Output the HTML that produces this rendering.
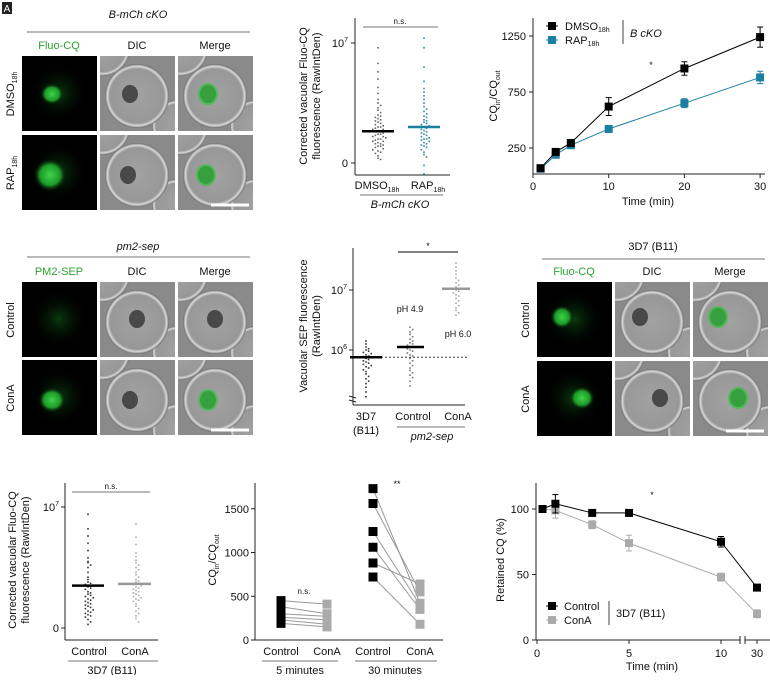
<!DOCTYPE html>
<html><head><meta charset="utf-8"><style>
body{margin:0;background:#fff;font-family:"Liberation Sans",sans-serif}
svg text{font-family:"Liberation Sans",sans-serif}
</style></head><body>
<svg id="fig" width="770" height="675" viewBox="0 0 770 675" xmlns="http://www.w3.org/2000/svg">
<defs id="defs">
<radialGradient id="gg"><stop offset="0" stop-color="#3fd34a"/><stop offset="0.6" stop-color="#1c9a28"/><stop offset="1" stop-color="#000" stop-opacity="0"/></radialGradient>
<radialGradient id="gw"><stop offset="0" stop-color="#0a3a0e"/><stop offset="1" stop-color="#000" stop-opacity="0"/></radialGradient>
<radialGradient id="cell"><stop offset="0" stop-color="#a2a2a2"/><stop offset="0.85" stop-color="#989898"/><stop offset="0.93" stop-color="#d8d8d8"/><stop offset="1" stop-color="#6a6a6a"/></radialGradient>
</defs>
<g id="images"></g>
<g id="charts"></g>
</svg>
<script>
const NS='http://www.w3.org/2000/svg';
const svg=document.getElementById('fig');
const defs=document.getElementById('defs');
function mk(tag,attrs,parent,txt){const e=document.createElementNS(NS,tag);for(const k in attrs)e.setAttribute(k,attrs[k]);if(txt!==undefined)e.textContent=txt;(parent||svg).appendChild(e);return e;}

// ===== DATA =====
// Panel C: uptake time course
const cTimes=[1,3,5,10,20,30];
const cDMSO=[70,215,295,620,960,1240];
const cDMSOerr=[15,20,20,80,60,90];
const cRAP=[65,190,275,420,650,880];
const cRAPerr=[10,15,15,25,40,55];
// Panel B scatter (x1e6)
const bDMSO=[9.6,8.3,7.6,7,6.3,5.8,5.3,5,4.8,4.6,4.4,4.2,4,3.9,3.8,3.7,3.6,3.5,3.4,3.3,3.2,3.1,3,3,2.9,2.8,2.8,2.7,2.6,2.6,2.5,2.4,2.4,2.3,2.2,2.2,2.1,2,2,1.9,1.8,1.8,1.7,1.6,1.6,1.5,1.4,1.4,1.3,1.2,1.1,1,0.9,0.8,0.6,0.4,0.3];
const bDMSOmed=2.65;
const bRAP=[10.4,9.6,8,6.8,6.2,5.9,5.6,5.3,5,4.7,4.5,4.3,4.1,3.9,3.8,3.6,3.5,3.4,3.3,3.2,3.1,3,2.9,2.8,2.7,2.6,2.5,2.4,2.3,2.2,2.1,2,2,1.9,1.8,1.7,1.6,1.5,1.4,1.3,1.1,0.9,0.7,0.5,-0.2,-0.9];
const bRAPmed=3;
// Panel E log scatter (log10 values)
const e3D7=[6.15,6.1,6.05,6.02,6,5.98,5.96,5.94,5.92,5.9,5.89,5.88,5.86,5.84,5.82,5.8,5.78,5.76,5.74,5.72,5.7,5.67,5.64,5.6,5.56,5.52,5.48,5.44,5.38,5.3,5.22];
const e3D7med=5.88;
const eCtrl=[6.38,6.34,6.3,6.26,6.22,6.18,6.15,6.12,6.1,6.08,6.06,6.04,6.02,6,5.98,5.95,5.92,5.9,5.86,5.82,5.78,5.74,5.7,5.66,5.62,5.58,5.54,5.48,5.4];
const eCtrlmed=6.05;
const eConA=[7.45,7.38,7.32,7.26,7.2,7.16,7.12,7.08,7.05,7.02,7,6.98,6.95,6.92,6.9,6.86,6.82,6.78,6.74,6.7,6.66,6.62,6.58];
const eConAmed=7.02;
const eLine=5.88;
// Panel G scatter (x1e6)
const gCtrl=[9.4,8.2,7.6,7,6.4,5.8,5.5,5.4,5.2,5,4.6,4.2,4,3.8,3.7,3.6,3.5,3.4,3.3,3.2,3,2.9,2.8,2.7,2.6,2.5,2.4,2.3,2.2,2.1,2,1.9,1.8,1.7,1.6,1.5,1.4,1.3,1.2,1.1,1,0.9,0.7,0.5,0.3];
const gCtrlmed=3.5;
const gConA=[8.6,7.5,6.9,6.2,5.9,5.6,5.4,5.2,5,4.8,4.6,4.4,4.2,4,3.9,3.8,3.7,3.6,3.5,3.4,3.3,3.2,3.1,3,2.9,2.8,2.7,2.6,2.5,2.4,2.3,2.2,2,1.8,1.6,1.4,1.2,1,0.8,0.5];
const gConAmed=3.65;
// Panel H paired
const h5Ctrl=[450,380,300,260,230,190];
const h5ConA=[410,300,270,230,180,150];
const h30Ctrl=[1730,1560,1240,1060,880,720];
const h30ConA=[420,550,400,350,640,180];
// Panel I retention
const iTimes=[0.3,1,3,5,10,30];
const iCtrl=[100,104,97,97,75,40];
const iCtrlErr=[0,7,2,2,4,2];
const iConA=[100,99,88,74,48,20];
const iConAErr=[0,6,3,6,3,3];

// ===== helpers =====
function txt(x,y,s,o,p){o=o||{};const e=mk('text',Object.assign({x:x,y:y,'font-size':o.fs||10,'text-anchor':o.a||'middle',fill:o.fill||'#111'},o.extra||{}),p,s);if(o.it)e.setAttribute('font-style','italic');return e;}
function line(x1,y1,x2,y2,st,p,name){const e=mk('line',{x1:x1,y1:y1,x2:x2,y2:y2,stroke:st||'#222','stroke-width':1},p);return e;}
function grp(name){const g=mk('g',{});return g;}
function swarm(vals,cx,ys,col,p,name){const bins={};vals.forEach(v=>{const y=ys(v);const k=Math.round(y/4);(bins[k]=bins[k]||[]).push(y);});
 for(const k in bins){const arr=bins[k];arr.forEach((y,i)=>{const off=(i%2?1:-1)*Math.ceil(i/2)*2.6;const r=mk('rect',{x:cx+off-0.8,y:y-0.8,width:1.6,height:1.6,fill:col},p);});}}

// ===== images =====
const im=document.getElementById('images');
let clipN=0;
function clipG(x,y,p,name){const id='c'+(clipN++);const cp=mk('clipPath',{id:id},defs);mk('rect',{x:x,y:y,width:75,height:75},cp);
 const g=mk('g',{'clip-path':'url(#'+id+')'},p);return g;}
function fluor(x,y,cx,cy,rx,ry,dim,p){const g=clipG(x,y,p,'fluorescence-image');
 mk('rect',{x:x,y:y,width:75,height:75,fill:'#000'},g);
 mk('ellipse',{cx:x+37,cy:y+37,rx:30,ry:30,fill:'url(#gw)'},g);
 if(!dim)mk('ellipse',{cx:x+cx,cy:y+cy,rx:rx,ry:ry,fill:'url(#gg)'},g);}
function dic(x,y,cx,cy,green,p){const g=clipG(x,y,p,green?'merge-image':'dic-image');
 mk('rect',{x:x,y:y,width:75,height:75,fill:'#8a8a8a'},g);
 mk('circle',{cx:x+2,cy:y-8,r:28,fill:'url(#cell)'},g);
 mk('circle',{cx:x+78,cy:y+70,r:26,fill:'url(#cell)'},g);
 mk('circle',{cx:x+37,cy:y+40,r:32,fill:'url(#cell)'},g);
 mk('ellipse',{cx:x+cx,cy:y+cy,rx:8,ry:9,fill:'#333',opacity:0.8},g);
 if(green)mk('ellipse',{cx:x+cx,cy:y+cy,rx:10,ry:11,fill:'#2fc43a',opacity:0.7},g);}
function block(x0,y0,title,titleIt,c1,c1col,rows,specs,rowY,lineY,labY){
 txt(x0+116,y0,title,{fs:11,it:titleIt,name:'panel-title'},im);
 line(x0+5,lineY,x0+228,lineY,'#777',im,'title-underline');
 const xs=[x0,x0+78,x0+156];
 txt(xs[0]+37,labY,c1,{fs:11,fill:c1col,name:'column-label'},im);
 txt(xs[1]+37,labY,'DIC',{fs:11,name:'column-label'},im);
 txt(xs[2]+37,labY,'Merge',{fs:11,name:'column-label'},im);
 rows.forEach((r,i)=>{const y=rowY[i];const s=specs[i];
  fluor(xs[0],y,s[0],s[1],s[2],s[3],s[4],im);dic(xs[1],y,s[0],s[1],false,im);dic(xs[2],y,s[0],s[1],!s[4],im);
  const t=txt(xs[0]-8,y+38,'',{fs:11,name:'row-label',extra:{transform:`rotate(-90 ${xs[0]-8} ${y+38})`}},im);
  t.innerHTML=r;});
 line(xs[2]+33,rowY[1]+70,xs[2]+71,rowY[1]+70,'#fff',im,'scale-bar').setAttribute('stroke-width',3);}
block(22,18,'B-mCh cKO',true,'Fluo-CQ','#2aa332',['DMSO<tspan font-size="7" dy="3">18h</tspan>','RAP<tspan font-size="7" dy="3">18h</tspan>'],[[30,38,12,11,false],[28,40,17,17,false]],[56,135],32,49);
block(22,250,'pm2-sep',true,'PM2-SEP','#2aa332',['Control','ConA'],[[37,37,0,0,true],[30,40,14,13,false]],[282,360],257,275);
block(537,250,'3D7 (B11)',false,'Fluo-CQ','#2aa332',['Control','ConA'],[[25,35,12,12,false],[45,37,13,12,false]],[282,361],259,275);
mk('rect',{x:2,y:2,width:10,height:12,fill:'#222'});
txt(7,12,'A',{fs:10,fill:'#fff',name:'panel-letter'});

// ===== Panel B =====
(function(){const g=grp('panel-b-scatter');const X=355,y0=163,y7=43;const ys=v=>y0-(y0-y7)*v/10;
 line(X,18,X,175,'#222',g,'y-axis');line(X,175,450,175,'#222',g,'x-axis');
 line(X-4,y7,X,y7,'#222',g,'y-tick');line(X-4,y0,X,y0,'#222',g,'y-tick');
 const t=txt(X-7,y7+4,'',{fs:11,a:'end',name:'y-tick-label'},g);t.innerHTML='10<tspan font-size="7" dy="-5">7</tspan>';
 txt(X-7,y0+4,'0',{fs:11,a:'end',name:'y-tick-label'},g);
 txt(0,0,'Corrected vacuolar Fluo-CQ',{fs:11,name:'y-axis-title',extra:{transform:'translate(307,96) rotate(-90)'}},g);
 txt(0,0,'fluorescence (RawIntDen)',{fs:11,name:'y-axis-title',extra:{transform:'translate(320,96) rotate(-90)'}},g);
 line(363,27,438,27,'#777',g,'significance-bar');txt(400,24,'n.s.',{fs:8,name:'significance-label'},g);
 swarm(bDMSO,378,ys,'#666',g,'point-dmso');swarm(bRAP,424,ys,'#2a8aa8',g,'point-rap');
 const m1=line(362,ys(bDMSOmed),394,ys(bDMSOmed),'#000',g,'median-dmso');m1.setAttribute('stroke-width',2.5);
 const m2=line(408,ys(bRAPmed),440,ys(bRAPmed),'#1a7fa0',g,'median-rap');m2.setAttribute('stroke-width',2.5);
 txt(377,189,'',{fs:11,name:'x-tick-label'},g).innerHTML='DMSO<tspan font-size="7" dy="3">18h</tspan>';
 txt(428,189,'',{fs:11,name:'x-tick-label'},g).innerHTML='RAP<tspan font-size="7" dy="3">18h</tspan>';
 line(360,195,443,195,'#777',g,'group-bar');txt(400,208,'B-mCh cKO',{fs:11,it:true,name:'group-label'},g);})();

// ===== Panel C =====
(function(){const g=grp('panel-c-line-chart');const xs=t=>533+t*7.57;const ys=v=>148-(v-250)*56/500;
 line(533,18,533,174,'#222',g,'y-axis');line(533,174,765,174,'#222',g,'x-axis');
 [250,750,1250].forEach(v=>{line(529,ys(v),533,ys(v),'#222',g,'y-tick');txt(526,ys(v)+4,String(v),{fs:11,a:'end',name:'y-tick-label'},g);});
 [0,10,20,30].forEach(v=>{line(xs(v),174,xs(v),178,'#222',g,'x-tick');txt(xs(v),190,String(v),{fs:11,name:'x-tick-label'},g);});
 txt(648,205,'Time (min)',{fs:11,name:'x-axis-title'},g);
 const yt=txt(0,0,'',{fs:11,name:'y-axis-title',extra:{transform:'translate(497,96) rotate(-90)'}},g);yt.innerHTML='CQ<tspan font-size="7" dy="3">in</tspan><tspan dy="-3">/CQ</tspan><tspan font-size="7" dy="3">out</tspan>';
 function series(vals,err,col,name){const pts=cTimes.map((t,i)=>xs(t)+','+ys(vals[i])).join(' ');
  const pl=mk('polyline',{points:pts,fill:'none',stroke:col,'stroke-width':1},g);
  cTimes.forEach((t,i)=>{const x=xs(t),y=ys(vals[i]);if(err[i]>0){line(x,ys(vals[i]+err[i]),x,ys(vals[i]-err[i]),col,g,name+'-errorbar');line(x-3,ys(vals[i]+err[i]),x+3,ys(vals[i]+err[i]),col,g,'errorcap');line(x-3,ys(vals[i]-err[i]),x+3,ys(vals[i]-err[i]),col,g,'errorcap');}
   const r=mk('rect',{x:x-4,y:y-4,width:8,height:8,fill:col},g);});}
 series(cRAP,cRAPerr,'#1a7fa0','rap');series(cDMSO,cDMSOerr,'#000','dmso');
 txt(651,68,'*',{fs:9,name:'significance-label'},g);
 line(546,26,558,26,'#000',g,'legend-line');mk('rect',{x:548,y:22,width:8,height:8,fill:'#000'},g);
 line(546,40,558,40,'#1a7fa0',g,'legend-line');mk('rect',{x:548,y:36,width:8,height:8,fill:'#1a7fa0'},g);
 txt(565,30,'',{fs:11,a:'start',name:'legend-entry'},g).innerHTML='DMSO<tspan font-size="7" dy="2">18h</tspan>';
 txt(565,44,'',{fs:11,a:'start',name:'legend-entry'},g).innerHTML='RAP<tspan font-size="7" dy="2">18h</tspan>';
 line(623,20,623,44,'#444',g,'legend-divider');txt(630,37,'B cKO',{fs:11,a:'start',it:true,name:'legend-group'},g);})();

// ===== Panel E =====
(function(){const g=grp('panel-e-log-scatter');const X=353;const ys=e=>350-(e-6)*60;
 line(X,248,X,405,'#222',g,'y-axis');line(X,405,465,405,'#222',g,'x-axis');
 line(X-4,396,X+3,398,'#222',g,'axis-break');line(X-4,400,X+3,402,'#222',g,'axis-break');
 [6,7].forEach(v=>{line(X-4,ys(v),X,ys(v),'#222',g,'y-tick');txt(X-6,ys(v)+4,'',{fs:11,a:'end',name:'y-tick-label'},g).innerHTML='10<tspan font-size="7" dy="-5">'+v+'</tspan>';});
 txt(0,0,'Vacuolar SEP fluorescence',{fs:11,name:'y-axis-title',extra:{transform:'translate(307,326) rotate(-90)'}},g);
 txt(0,0,'(RawIntDen)',{fs:11,name:'y-axis-title',extra:{transform:'translate(320,326) rotate(-90)'}},g);
 swarm(e3D7,366,ys,'#333',g,'point-3d7');swarm(eCtrl,410,ys,'#777',g,'point-control');swarm(eConA,456,ys,'#aaa',g,'point-cona');
 const d=line(X,ys(eLine),468,ys(eLine),'#333',g,'reference-line');d.setAttribute('stroke-dasharray','2,2');
 [[e3D7med,350,382,'#000'],[eCtrlmed,397,424,'#000'],[eConAmed,442,470,'#999']].forEach(m=>{const l=line(m[1],ys(m[0]),m[2],ys(m[0]),m[3],g,'median');l.setAttribute('stroke-width',2.5);});
 line(398,252,458,252,'#000',g,'significance-bar');txt(428,249,'*',{fs:9,name:'significance-label'},g);
 txt(410,312,'pH 4.9',{fs:9,name:'annotation'},g);txt(458,337,'pH 6.0',{fs:9,name:'annotation'},g);
 txt(366,420,'3D7',{fs:11,name:'x-tick-label'},g);txt(366,434,'(B11)',{fs:11,name:'x-tick-label'},g);
 txt(413,420,'Control',{fs:11,name:'x-tick-label'},g);txt(458,420,'ConA',{fs:11,name:'x-tick-label'},g);
 line(397,427,465,427,'#777',g,'group-bar');txt(432,440,'pm2-sep',{fs:11,it:true,name:'group-label'},g);})();

// ===== Panel G =====
(function(){const g=grp('panel-g-scatter');const X=65,y0=628,y7=507;const ys=v=>y0-(y0-y7)*v/10;
 line(X,483,X,640,'#222',g,'y-axis');line(X,640,158,640,'#222',g,'x-axis');
 line(X-4,y7,X,y7,'#222',g,'y-tick');line(X-4,y0,X,y0,'#222',g,'y-tick');
 txt(X-6,y7+4,'',{fs:11,a:'end',name:'y-tick-label'},g).innerHTML='10<tspan font-size="7" dy="-5">7</tspan>';
 txt(X-6,y0+4,'0',{fs:11,a:'end',name:'y-tick-label'},g);
 txt(0,0,'Corrected vacuolar Fluo-CQ',{fs:11,name:'y-axis-title',extra:{transform:'translate(16,560) rotate(-90)'}},g);
 txt(0,0,'fluorescence (RawIntDen)',{fs:11,name:'y-axis-title',extra:{transform:'translate(29,560) rotate(-90)'}},g);
 line(72,492,150,492,'#777',g,'significance-bar');txt(111,489,'n.s.',{fs:8,name:'significance-label'},g);
 swarm(gCtrl,88,ys,'#333',g,'point-control');swarm(gConA,136,ys,'#aaa',g,'point-cona');
 [[gCtrlmed,72,104,'#000'],[gConAmed,118,151,'#999']].forEach(m=>{const l=line(m[1],ys(m[0]),m[2],ys(m[0]),m[3],g,'median');l.setAttribute('stroke-width',2.5);});
 txt(89,655,'Control',{fs:11,name:'x-tick-label'},g);txt(135,655,'ConA',{fs:11,name:'x-tick-label'},g);
 line(68,661,158,661,'#777',g,'group-bar');txt(112,674,'3D7 (B11)',{fs:11,name:'group-label'},g);})();

// ===== Panel H =====
(function(){const g=grp('panel-h-paired');const X=255;const ys=v=>640-v*0.0875;const cx=[281,327,373,420];
 line(X,483,X,640,'#222',g,'y-axis');line(X,640,443,640,'#222',g,'x-axis');
 [0,500,1000,1500].forEach(v=>{line(X-4,ys(v),X,ys(v),'#222',g,'y-tick');txt(X-6,ys(v)+4,String(v),{fs:11,a:'end',name:'y-tick-label'},g);});
 txt(0,0,'',{fs:11,name:'y-axis-title',extra:{transform:'translate(216,560) rotate(-90)'}},g).innerHTML='CQ<tspan font-size="7" dy="3">in</tspan><tspan dy="-3">/CQ</tspan><tspan font-size="7" dy="3">out</tspan>';
 function pairs(a,b,x1,x2,nm){a.forEach((v,i)=>{line(x1,ys(v),x2,ys(b[i]),'#999',g,nm+'-pair-line');});
  a.forEach(v=>{const r=mk('rect',{x:x1-4.5,y:ys(v)-4.5,width:9,height:9,fill:'#000'},g);});
  b.forEach(v=>{const r=mk('rect',{x:x2-4.5,y:ys(v)-4.5,width:9,height:9,fill:'#aaa'},g);});}
 pairs(h5Ctrl,h5ConA,cx[0],cx[1],'5min');pairs(h30Ctrl,h30ConA,cx[2],cx[3],'30min');
 txt(304,594,'n.s.',{fs:8,name:'significance-label'},g);txt(397,487,'**',{fs:9,name:'significance-label'},g);
 ['Control','ConA','Control','ConA'].forEach((s,i)=>txt(cx[i],655,s,{fs:11,name:'x-tick-label'},g));
 line(262,661,338,661,'#777',g,'group-bar');line(355,661,437,661,'#777',g,'group-bar');
 txt(300,674,'5 minutes',{fs:11,name:'group-label'},g);txt(395,674,'30 minutes',{fs:11,name:'group-label'},g);})();

// ===== Panel I =====
(function(){const g=grp('panel-i-retention');const xs=t=>t<=10?537+t*18.4:757;const ys=v=>640-v*1.31;
 line(536,483,536,640,'#222',g,'y-axis');line(536,640,740,640,'#222',g,'x-axis');line(745,640,770,640,'#222',g,'x-axis');
 line(740,636,740,644,'#222',g,'axis-break');line(745,636,745,644,'#222',g,'axis-break');
 [0,50,100].forEach(v=>{line(532,ys(v),536,ys(v),'#222',g,'y-tick');txt(529,ys(v)+4,String(v),{fs:11,a:'end',name:'y-tick-label'},g);});
 [0,5,10,30].forEach(v=>{line(xs(v),640,xs(v),644,'#222',g,'x-tick');txt(xs(v),657,String(v),{fs:11,name:'x-tick-label'},g);});
 txt(652,670,'Time (min)',{fs:11,name:'x-axis-title'},g);
 txt(0,0,'Retained CQ (%)',{fs:11,name:'y-axis-title',extra:{transform:'translate(504,560) rotate(-90)'}},g);
 function series(vals,err,col,name){const pts=iTimes.map((t,i)=>xs(t)+','+ys(vals[i])).join(' ');
  const pl=mk('polyline',{points:pts,fill:'none',stroke:col,'stroke-width':1},g);
  iTimes.forEach((t,i)=>{const x=xs(t),y=ys(vals[i]);if(err[i]>0){line(x,ys(vals[i]+err[i]),x,ys(vals[i]-err[i]),col,g,name+'-errorbar');line(x-3,ys(vals[i]+err[i]),x+3,ys(vals[i]+err[i]),col,g,'errorcap');line(x-3,ys(vals[i]-err[i]),x+3,ys(vals[i]-err[i]),col,g,'errorcap');}
   const r=mk('rect',{x:x-4,y:y-4,width:8,height:8,fill:col},g);});}
 series(iConA,iConAErr,'#aaa','cona');series(iCtrl,iCtrlErr,'#000','control');
 txt(652,498,'*',{fs:9,name:'significance-label'},g);
 line(546,606,558,606,'#000',g,'legend-line');mk('rect',{x:548,y:602,width:8,height:8,fill:'#000'},g);
 line(546,620,558,620,'#aaa',g,'legend-line');mk('rect',{x:548,y:616,width:8,height:8,fill:'#aaa'},g);
 txt(564,610,'Control',{fs:11,a:'start',name:'legend-entry'},g);txt(564,624,'ConA',{fs:11,a:'start',name:'legend-entry'},g);
 line(609,601,609,625,'#444',g,'legend-divider');txt(616,617,'3D7 (B11)',{fs:11,a:'start',name:'legend-group'},g);})();
</script>
</body></html>
